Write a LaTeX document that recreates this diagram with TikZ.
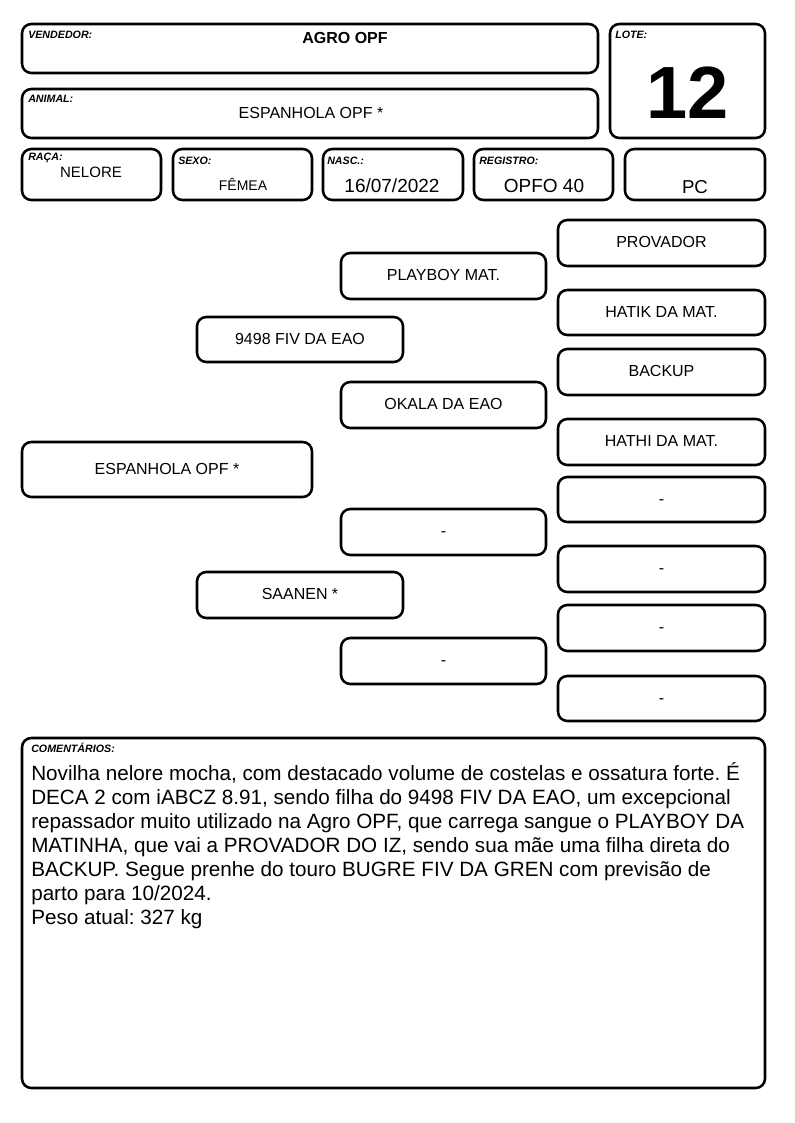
\documentclass[tikz,border=0pt]{standalone}
\usepackage{fontspec}
\setmainfont{Liberation Sans}
\frenchspacing
\usetikzlibrary{fit}
\tikzset{
  box/.style={draw, line width=1.9pt, rounded corners=7pt, inner sep=0pt},
  lbl/.style={font=\bfseries\itshape\fontsize{8}{9}\selectfont, anchor=west, inner sep=0pt},
  ped/.style={font=\fontsize{12}{14}\selectfont, inner sep=0pt, text height=0.716em, text depth=0pt},
  hval/.style={inner sep=0pt},
}
\begin{document}
\begin{tikzpicture}[x=0.75pt,y=-0.75pt]
\useasboundingbox (0,0) rectangle (794,1123);
% header boxes
\node[box, fit={(22,24) (598,73)}] (vend) {};
\node[lbl] (vendl) at (28,35) {VENDEDOR:};
\node[hval, font=\bfseries\fontsize{12}{14}\selectfont] (vendv) at (345,38) {AGRO OPF};

\node[box, fit={(610,24) (765,138)}] (lote) {};
\node[lbl] (lotel) at (615,35) {LOTE:};
\node[hval, font=\bfseries\fontsize{55.5}{60}\selectfont] (lotev) at (688,93) {12};

\node[box, fit={(22,89) (598,138)}] (anim) {};
\node[lbl] (animl) at (28,99) {ANIMAL:};
\node[hval, font=\fontsize{12}{14}\selectfont] (animv) at (311,113) {ESPANHOLA OPF *};

\node[box, fit={(22,149) (161,200)}] (raca) {};
\node[lbl] (racal) at (28,158) {RAÇA:};
\node[hval, font=\fontsize{11.25}{13}\selectfont] (racav) at (91,172) {NELORE};

\node[box, fit={(173,149) (312,200)}] (sexo) {};
\node[lbl] (sexol) at (178,161) {SEXO:};
\node[hval, font=\fontsize{10.5}{12}\selectfont] (sexov) at (243,184) {FÊMEA};

\node[box, fit={(323,149) (463,200)}] (nasc) {};
\node[lbl] (nascl) at (327,161) {NASC.:};
\node[hval, font=\fontsize{14.25}{16}\selectfont] (nascv) at (392,186) {16/07/2022};

\node[box, fit={(474,149) (613,200)}] (reg) {};
\node[lbl] (regl) at (479,161) {REGISTRO:};
\node[hval, font=\fontsize{14.25}{16}\selectfont] (regv) at (544,186) {OPFO 40};

\node[box, fit={(625,149) (765,200)}] (pc) {};
\node[hval, font=\fontsize{14}{16}\selectfont] (pcv) at (695,187) {PC};

% pedigree
\node[box, fit={(22,442) (312,497)}] (a) {};
\node[ped] at (a) {ESPANHOLA OPF *};

\node[box, fit={(197,317) (403,362)}] (p) {};
\node[ped] at (p) {9498 FIV DA EAO};
\node[box, fit={(197,572) (403,618)}] (m) {};
\node[ped] at (m) {SAANEN *};

\node[box, fit={(341,253) (546,299)}] (pp) {};
\node[ped] at (pp) {PLAYBOY MAT.};
\node[box, fit={(341,382) (546,428)}] (pm) {};
\node[ped] at (pm) {OKALA DA EAO};
\node[box, fit={(341,509) (546,555)}] (mp) {};
\node[ped] at (mp) {-};
\node[box, fit={(341,638) (546,684)}] (mm) {};
\node[ped] at (mm) {-};

\node[box, fit={(558,220) (765,266)}] (ppp) {};
\node[ped] at (ppp) {PROVADOR};
\node[box, fit={(558,290) (765,335)}] (ppm) {};
\node[ped] at (ppm) {HATIK DA MAT.};
\node[box, fit={(558,349) (765,395)}] (pmp) {};
\node[ped] at (pmp) {BACKUP};
\node[box, fit={(558,419) (765,465)}] (pmm) {};
\node[ped] at (pmm) {HATHI DA MAT.};
\node[box, fit={(558,477) (765,522)}] (mpp) {};
\node[ped] at (mpp) {-};
\node[box, fit={(558,546) (765,592)}] (mpm) {};
\node[ped] at (mpm) {-};
\node[box, fit={(558,605) (765,651)}] (mmp) {};
\node[ped] at (mmp) {-};
\node[box, fit={(558,676) (765,721)}] (mmm) {};
\node[ped] at (mmm) {-};

% comments
\node[box, fit={(22,738) (765,1088)}] (com) {};
\node[lbl] (coml) at (31,748) {COMENTÁRIOS:};
\node[anchor=base west, inner sep=0pt, align=left, font=\fontsize{15.5}{18}\selectfont] (comv) at (31,924)
{Novilha nelore mocha, com destacado volume de costelas e ossatura forte. É\\
DECA 2 com iABCZ 8.91, sendo filha do 9498 FIV DA EAO, um excepcional\\
repassador muito utilizado na Agro OPF, que carrega sangue o PLAYBOY DA\\
MATINHA, que vai a PROVADOR DO IZ, sendo sua mãe uma filha direta do\\
BACKUP. Segue prenhe do touro BUGRE FIV DA GREN com previsão de\\
parto para 10/2024.\\
Peso atual: 327 kg};
\end{tikzpicture}
\end{document}
